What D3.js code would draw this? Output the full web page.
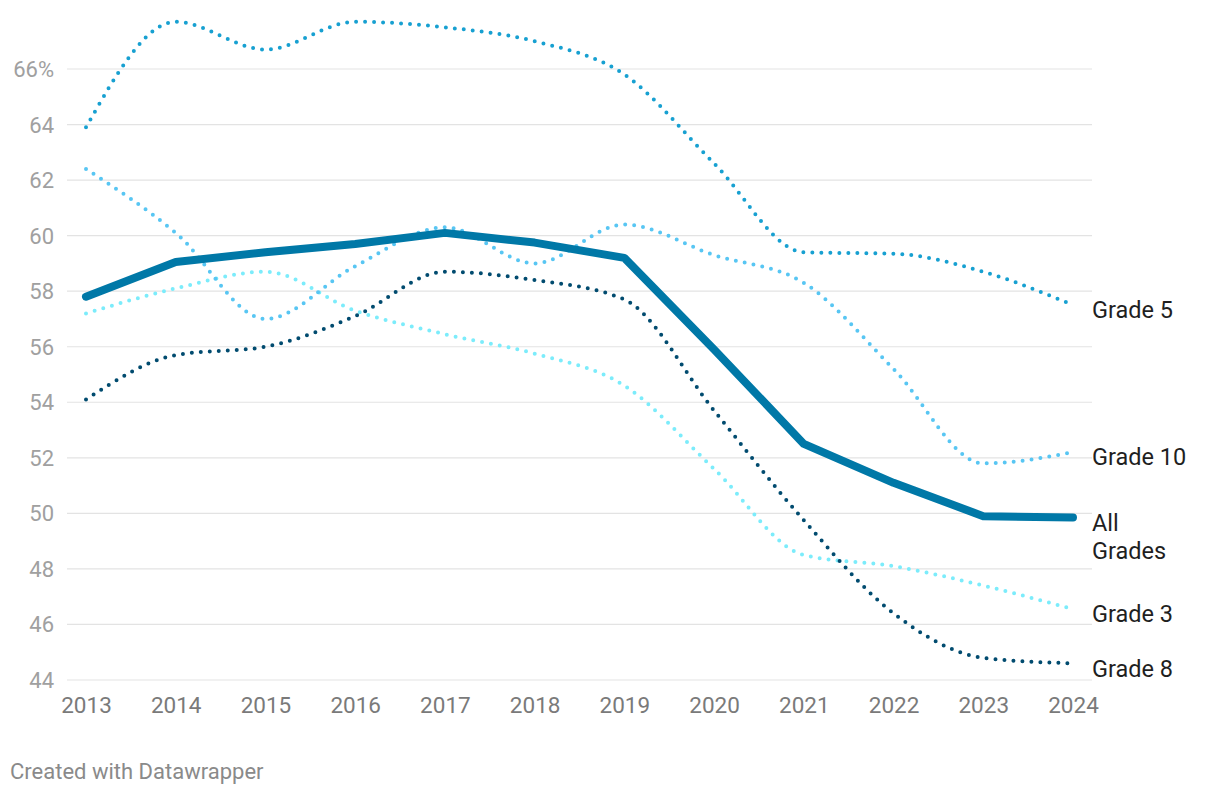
<!DOCTYPE html>
<html><head><meta charset="utf-8">
<script src="https://cdn.jsdelivr.net/npm/d3@7"></script>
<style>
body{margin:0;background:#fff;font-family:Roboto,"Noto Sans",sans-serif;}
</style></head>
<body><svg id="c" width="1220" height="796"></svg>
<script>
const years = [2013,2014,2015,2016,2017,2018,2019,2020,2021,2022,2023,2024];
const grade5  = [63.9,67.7,66.7,67.7,67.5,67.0,65.8,62.6,59.4,59.35,58.7,57.5];
const grade10 = [62.4,60.1,57.0,58.9,60.3,59.0,60.4,59.3,58.3,55.2,51.8,52.2];
const allGrades = [57.8,59.05,59.4,59.7,60.1,59.75,59.2,55.9,52.5,51.1,49.9,49.85];
const grade8  = [54.1,55.7,56.0,57.1,58.7,58.4,57.7,53.7,49.75,46.4,44.8,44.6];
const grade3  = [57.2,58.1,58.7,57.3,56.45,55.75,54.6,51.6,48.5,48.1,47.4,46.55];
const yTicks = [44,46,48,50,52,54,56,58,60,62,64,66];

const series = [
  {name:"Grade 3", values:grade3, color:"#7cecfb", dotted:true},
  {name:"Grade 10", values:grade10, color:"#58c6f3", dotted:true},
  {name:"Grade 5", values:grade5, color:"#17a0d1", dotted:true},
  {name:"Grade 8", values:grade8, color:"#014b6f", dotted:true},
  {name:"All Grades", values:allGrades, color:"#0078a7", dotted:false}
];

const svg = d3.select("#c");
const x = d3.scaleLinear().domain([2013,2024]).range([86,1073]);
const y = d3.scaleLinear().domain([44,66]).range([680,69]);

// grid
const grid = svg.append("g");
grid.selectAll("line").data(yTicks).join("line")
  .attr("x1",67).attr("x2",1092)
  .attr("y1",d=>y(d)).attr("y2",d=>y(d))
  .attr("stroke","#e3e3e3").attr("stroke-width",1.2);

// y axis labels
const yAxis = d3.axisLeft(y).tickValues(yTicks).tickSize(0).tickPadding(0)
  .tickFormat(d=> d===66 ? d+"%" : d);
const ga = svg.append("g").attr("transform","translate(54,0)").call(yAxis);
ga.select(".domain").remove();
ga.selectAll("text").attr("font-family","Roboto").attr("font-size",22)
  .attr("fill","#a0a0a0").attr("dy","0.34em");

// x axis labels
const xAxis = d3.axisBottom(x).tickValues(years).tickSize(0).tickPadding(0).tickFormat(d3.format("d"));
const gx = svg.append("g").attr("transform","translate(0,705)").call(xAxis);
gx.select(".domain").remove();
gx.selectAll("text").attr("font-family","Roboto").attr("font-size",22.5)
  .attr("fill","#7a7a7a").attr("dy","0.35em");

// lines
const lineSmooth = d3.line().x((d,i)=>x(years[i])).y(d=>y(d)).curve(d3.curveMonotoneX);
const lineStraight = d3.line().x((d,i)=>x(years[i])).y(d=>y(d));
series.forEach(s=>{
  const p = svg.append("path").attr("d", s.dotted ? lineSmooth(s.values) : lineStraight(s.values))
    .attr("fill","none").attr("stroke",s.color).attr("stroke-linecap","round").attr("stroke-linejoin","round");
  if(s.dotted){ p.attr("stroke-width",4).attr("stroke-dasharray","0,9"); }
  else { p.attr("stroke-width",8); }
});

// labels
const lab = svg.append("g").attr("font-family","Roboto").attr("font-size",23.5).attr("fill","#1f1f1f");
series.forEach(s=>{
  const v = s.values[s.values.length-1];
  const t = lab.append("text").attr("x",1092).attr("y",y(v)+5).attr("dy","0.35em");
  if(s.name==="All Grades"){
    t.append("tspan").attr("x",1092).text("All");
    t.append("tspan").attr("x",1092).attr("dy","1.2em").text("Grades");
  } else t.text(s.name);
});

svg.append("text").attr("x",10).attr("y",779).attr("font-family","Roboto").attr("font-size",22)
  .attr("fill","#8a8a8a").text("Created with Datawrapper");
</script></body></html>
